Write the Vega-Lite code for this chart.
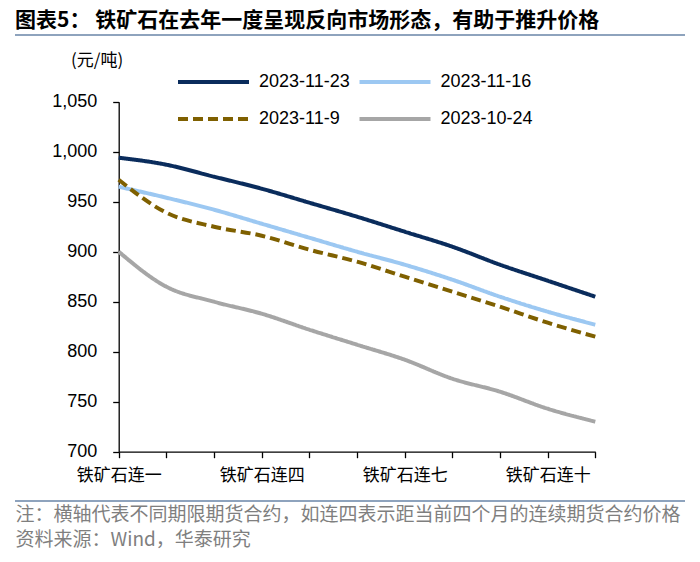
{
  "$schema": "https://vega.github.io/schema/vega-lite/v6.json",
  "width": 670,
  "height": 466,
  "autosize": {"type": "none"},
  "padding": {"left": 15, "top": 35, "right": 15, "bottom": 61},
  "background": "white",
  "config": {
    "view": {"stroke": "#8ea3bd", "strokeWidth": 2, "strokeDash": [670, 466]},
    "font": "Liberation Sans"
  },
  "title": {
    "text": "图表5： 铁矿石在去年一度呈现反向市场形态，有助于推升价格",
    "anchor": "start",
    "frame": "group",
    "font": "Noto Sans CJK SC",
    "fontSize": 21,
    "fontWeight": "bold",
    "color": "#000000",
    "baseline": "alphabetic",
    "offset": 8,
    "dy": 21
  },
  "data": {
    "values": [
      {"contract": "铁矿石连一", "date": "2023-11-23", "price": 994},
      {"contract": "铁矿石连二", "date": "2023-11-23", "price": 987},
      {"contract": "铁矿石连三", "date": "2023-11-23", "price": 975},
      {"contract": "铁矿石连四", "date": "2023-11-23", "price": 963},
      {"contract": "铁矿石连五", "date": "2023-11-23", "price": 949},
      {"contract": "铁矿石连六", "date": "2023-11-23", "price": 935},
      {"contract": "铁矿石连七", "date": "2023-11-23", "price": 920},
      {"contract": "铁矿石连八", "date": "2023-11-23", "price": 905},
      {"contract": "铁矿石连九", "date": "2023-11-23", "price": 887},
      {"contract": "铁矿石连十", "date": "2023-11-23", "price": 871},
      {"contract": "铁矿石连十一", "date": "2023-11-23", "price": 855},
      {"contract": "铁矿石连一", "date": "2023-11-16", "price": 965},
      {"contract": "铁矿石连二", "date": "2023-11-16", "price": 954},
      {"contract": "铁矿石连三", "date": "2023-11-16", "price": 942},
      {"contract": "铁矿石连四", "date": "2023-11-16", "price": 928},
      {"contract": "铁矿石连五", "date": "2023-11-16", "price": 914},
      {"contract": "铁矿石连六", "date": "2023-11-16", "price": 900},
      {"contract": "铁矿石连七", "date": "2023-11-16", "price": 887},
      {"contract": "铁矿石连八", "date": "2023-11-16", "price": 872},
      {"contract": "铁矿石连九", "date": "2023-11-16", "price": 855},
      {"contract": "铁矿石连十", "date": "2023-11-16", "price": 840},
      {"contract": "铁矿石连十一", "date": "2023-11-16", "price": 827},
      {"contract": "铁矿石连一", "date": "2023-11-9", "price": 972},
      {"contract": "铁矿石连二", "date": "2023-11-9", "price": 939},
      {"contract": "铁矿石连三", "date": "2023-11-9", "price": 925},
      {"contract": "铁矿石连四", "date": "2023-11-9", "price": 916},
      {"contract": "铁矿石连五", "date": "2023-11-9", "price": 902},
      {"contract": "铁矿石连六", "date": "2023-11-9", "price": 890},
      {"contract": "铁矿石连七", "date": "2023-11-9", "price": 875},
      {"contract": "铁矿石连八", "date": "2023-11-9", "price": 860},
      {"contract": "铁矿石连九", "date": "2023-11-9", "price": 845},
      {"contract": "铁矿石连十", "date": "2023-11-9", "price": 829},
      {"contract": "铁矿石连十一", "date": "2023-11-9", "price": 815},
      {"contract": "铁矿石连一", "date": "2023-10-24", "price": 900},
      {"contract": "铁矿石连二", "date": "2023-10-24", "price": 865},
      {"contract": "铁矿石连三", "date": "2023-10-24", "price": 850},
      {"contract": "铁矿石连四", "date": "2023-10-24", "price": 838},
      {"contract": "铁矿石连五", "date": "2023-10-24", "price": 822},
      {"contract": "铁矿石连六", "date": "2023-10-24", "price": 807},
      {"contract": "铁矿石连七", "date": "2023-10-24", "price": 792},
      {"contract": "铁矿石连八", "date": "2023-10-24", "price": 773},
      {"contract": "铁矿石连九", "date": "2023-10-24", "price": 760},
      {"contract": "铁矿石连十", "date": "2023-10-24", "price": 743},
      {"contract": "铁矿石连十一", "date": "2023-10-24", "price": 730}
    ]
  },
  "mark": {"type": "line", "strokeWidth": 4, "interpolate": "monotone"},
  "encoding": {
    "x": {
      "field": "contract",
      "type": "ordinal",
      "sort": ["铁矿石连一", "铁矿石连二", "铁矿石连三", "铁矿石连四", "铁矿石连五", "铁矿石连六", "铁矿石连七", "铁矿石连八", "铁矿石连九", "铁矿石连十", "铁矿石连十一"],
      "scale": {"type": "point", "range": [103.7, 580.3], "padding": 0},
      "axis": {
        "offset": -49.3,
        "domainColor": "#000000",
        "domainWidth": 1.3,
        "tickColor": "#000000",
        "tickWidth": 1.3,
        "tickSize": 6,
        "labelAngle": 0,
        "labelOverlap": false,
        "labelFont": "Noto Sans CJK SC",
        "labelFontSize": 17,
        "labelColor": "#000000",
        "labelPadding": 10,
        "labelExpr": "indexof(['铁矿石连一','铁矿石连四','铁矿石连七','铁矿石连十'], datum.value) >= 0 ? datum.value : ''",
        "title": ["注：横轴代表不同期限期货合约，如连四表示距当前四个月的连续期货合约价格", "资料来源：Wind，华泰研究"],
        "titleX": 0,
        "titleY": 63,
        "titleAlign": "left",
        "titleAnchor": "start",
        "titleBaseline": "middle",
        "titleFont": "Noto Sans CJK SC",
        "titleFontSize": 19,
        "titleFontWeight": "normal",
        "titleColor": "#7f7f7f",
        "titleLineHeight": 25,
        "titleLimit": 1000,
        "grid": false
      }
    },
    "y": {
      "field": "price",
      "type": "quantitative",
      "scale": {"domain": [700, 1050], "range": [416.7, 66.7], "nice": false, "zero": false},
      "axis": {
        "offset": -103.7,
        "values": [700, 750, 800, 850, 900, 950, 1000, 1050],
        "format": ",d",
        "domainColor": "#000000",
        "domainWidth": 1.3,
        "tickColor": "#000000",
        "tickWidth": 1.3,
        "tickSize": 6,
        "labelFont": "Liberation Sans",
        "labelFontSize": 18,
        "labelColor": "#000000",
        "labelPadding": 16,
        "grid": false,
        "title": "(元/吨)",
        "titleAngle": 0,
        "titleX": -22,
        "titleY": 25,
        "titleAlign": "center",
        "titleBaseline": "middle",
        "titleFont": "Noto Sans CJK SC",
        "titleFontSize": 17,
        "titleFontWeight": "normal",
        "titleColor": "#000000"
      }
    },
    "color": {
      "field": "date",
      "type": "nominal",
      "scale": {
        "domain": ["2023-11-23", "2023-11-16", "2023-11-9", "2023-10-24"],
        "range": ["#0a2c5c", "#9cc8f2", "#7f6000", "#a6a6a6"]
      },
      "legend": {
        "title": null,
        "orient": "none",
        "direction": "horizontal",
        "legendX": 186.5,
        "legendY": 35,
        "columns": 2,
        "symbolType": "M-3.55,0H3.55",
        "symbolSize": 400,
        "symbolStrokeWidth": 4,
        "labelFont": "Liberation Sans",
        "labelFontSize": 18,
        "labelColor": "#000000",
        "labelOffset": 33.5,
        "labelLimit": 200,
        "columnPadding": 0.5,
        "rowPadding": 16
      }
    },
    "strokeDash": {
      "field": "date",
      "type": "nominal",
      "scale": {
        "domain": ["2023-11-23", "2023-11-16", "2023-11-9", "2023-10-24"],
        "range": [[1, 0], [1, 0], [10, 5], [1, 0]]
      },
      "legend": {
        "title": null,
        "orient": "none",
        "direction": "horizontal",
        "legendX": 186.5,
        "legendY": 35,
        "columns": 2,
        "symbolType": "M-3.55,0H3.55",
        "symbolSize": 400,
        "symbolStrokeWidth": 4,
        "labelFont": "Liberation Sans",
        "labelFontSize": 18,
        "labelColor": "#000000",
        "labelOffset": 33.5,
        "labelLimit": 200,
        "columnPadding": 0.5,
        "rowPadding": 16
      }
    }
  }
}
